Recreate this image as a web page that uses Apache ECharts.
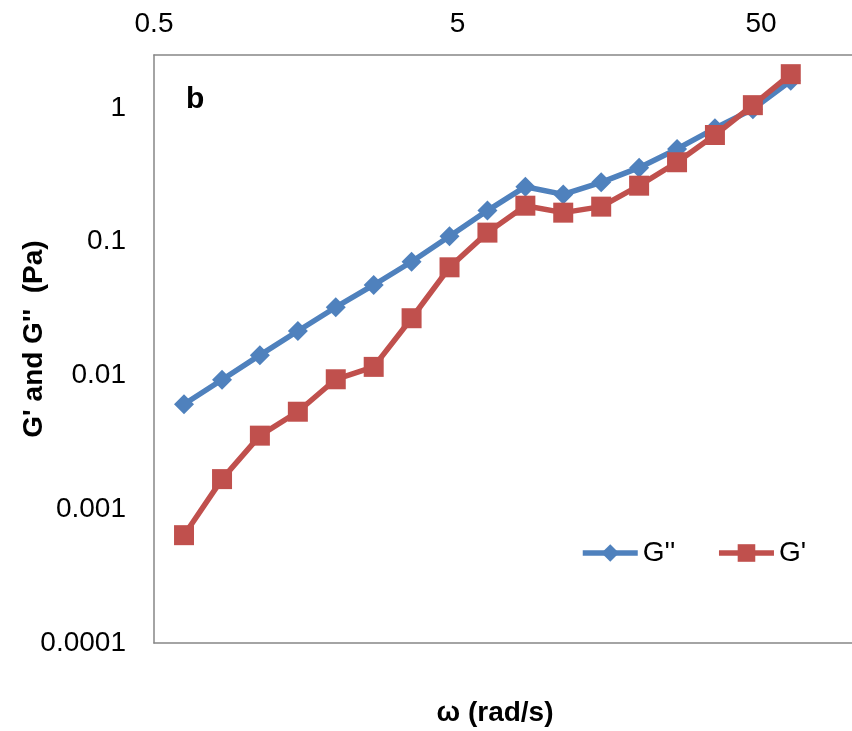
<!DOCTYPE html>
<html>
<head>
<meta charset="utf-8">
<title>G' and G'' vs ω</title>
<script src="https://cdn.jsdelivr.net/npm/echarts@6/dist/echarts.min.js"></script>
<style>
  html, body { margin: 0; padding: 0; background: #ffffff; }
  #chart { width: 852px; height: 731px; }
</style>
</head>
<body>
<div id="chart"></div>
<script>
// Angular frequency sweep (rad/s)
const omega = [0.628, 0.838, 1.117, 1.49, 1.987, 2.65, 3.533, 4.712, 6.283,
               8.379, 11.17, 14.9, 19.87, 26.5, 35.33, 47.12, 62.83];

// Loss modulus G'' (Pa)
const gDoublePrime = [0.0061, 0.0093, 0.0142, 0.0215, 0.0324, 0.0475, 0.0709, 0.110, 0.171,
                      0.258, 0.226, 0.278, 0.358, 0.494, 0.705, 0.98, 1.60];

// Storage modulus G' (Pa)
const gPrime = [0.00064, 0.00168, 0.00355, 0.00536, 0.00937, 0.0116, 0.0268, 0.0644, 0.117,
                0.186, 0.165, 0.183, 0.2625, 0.393, 0.628, 1.05, 1.79];

const seriesNames = ["G''", "G'"];
const xTickLabels = ['0.5', '5', '50'];
const yTickLabels = ['0.0001', '0.001', '0.01', '0.1', '1'];

const FONT = '"Liberation Sans", Arial, Helvetica, sans-serif';
const AXIS_GRAY = '#868686';
const BLUE = '#4F81BD';
const RED = '#C0504D';
const LINE_W = 5.5;

function pairs(xs, ys) {
  return xs.map((x, i) => [x, ys[i]]);
}

const chart = echarts.init(document.getElementById('chart'), null, { renderer: 'canvas' });

const option = {
  animation: false,
  backgroundColor: '#ffffff',
  grid: { left: 154, top: 55, right: -6.6, bottom: 88, containLabel: false },
  xAxis: [
    {
      type: 'log',
      logBase: 10,
      position: 'top',
      min: 0.5,
      max: 100,
      interval: 1,
      axisLine: { show: true, lineStyle: { color: AXIS_GRAY, width: 1.5 } },
      axisTick: { show: false },
      splitLine: { show: false },
      minorTick: { show: false },
      axisLabel: {
        fontSize: 28,
        fontFamily: FONT,
        color: '#000000',
        margin: 17,
        showMaxLabel: false,
        formatter: function (v) {
          const k = Math.round(Math.log10(v / 0.5));
          return xTickLabels[k] !== undefined ? xTickLabels[k] : '';
        }
      }
    },
    {
      type: 'log',
      logBase: 10,
      position: 'bottom',
      min: 0.5,
      max: 100,
      axisLine: { show: true, onZero: false, lineStyle: { color: AXIS_GRAY, width: 1.5 } },
      axisTick: { show: false },
      axisLabel: { show: false },
      splitLine: { show: false }
    }
  ],
  yAxis: {
    type: 'log',
    logBase: 10,
    min: 0.0001,
    max: 2.49,
    interval: 1,
    axisLine: { show: true, lineStyle: { color: AXIS_GRAY, width: 1.5 } },
    axisTick: { show: false },
    splitLine: { show: false },
    minorTick: { show: false },
    axisLabel: {
      fontSize: 28,
      fontFamily: FONT,
      color: '#000000',
      margin: 28,
      showMaxLabel: false,
      formatter: function (v) {
        const k = Math.round(Math.log10(v)) + 4;
        return yTickLabels[k] !== undefined ? yTickLabels[k] : '';
      }
    }
  },
  legend: {
    left: 580,
    top: 539,
    padding: 0,
    orient: 'horizontal',
    itemWidth: 55,
    itemHeight: 22,
    itemGap: 41,
    lineStyle: { width: LINE_W },
    textStyle: { fontSize: 28, fontFamily: FONT, color: '#000000' },
    data: seriesNames
  },
  series: [
    {
      name: seriesNames[0],
      type: 'line',
      xAxisIndex: 0,
      data: pairs(omega, gDoublePrime),
      symbol: 'diamond',
      symbolSize: 20,
      showAllSymbol: true,
      color: BLUE,
      itemStyle: { color: BLUE },
      lineStyle: { color: BLUE, width: LINE_W }
    },
    {
      name: seriesNames[1],
      type: 'line',
      xAxisIndex: 0,
      data: pairs(omega, gPrime),
      symbol: 'rect',
      symbolSize: 20,
      showAllSymbol: true,
      color: RED,
      itemStyle: { color: RED },
      lineStyle: { color: RED, width: LINE_W }
    }
  ],
  graphic: [
    {
      type: 'text',
      left: 186,
      top: 85,
      style: { text: 'b', font: 'bold 30px ' + FONT, fill: '#000000' }
    },
    {
      type: 'text',
      x: 495,
      y: 713,
      style: {
        text: 'ω (rad/s)',
        font: 'bold 28px ' + FONT,
        fill: '#000000',
        align: 'center',
        verticalAlign: 'middle'
      }
    },
    {
      type: 'text',
      x: 34,
      y: 339,
      rotation: Math.PI / 2,
      style: {
        text: "G' and G''  (Pa)",
        font: 'bold 28px ' + FONT,
        fill: '#000000',
        align: 'center',
        verticalAlign: 'middle'
      }
    }
  ]
};

chart.setOption(option);
</script>
</body>
</html>
